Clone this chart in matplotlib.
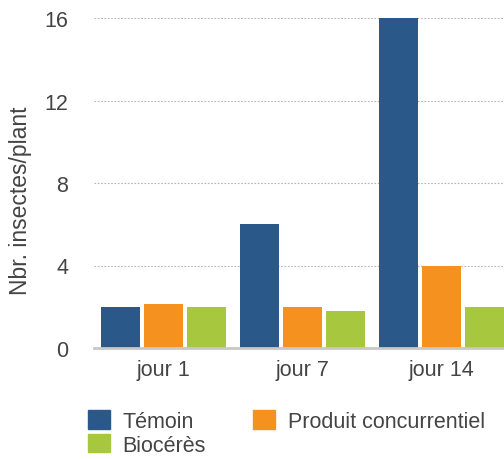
import matplotlib
matplotlib.use("Agg")
import matplotlib.pyplot as plt
import numpy as np
from matplotlib.patches import Patch

categories = ["jour 1", "jour 7", "jour 14"]
series_names = ["Témoin", "Produit concurrentiel", "Biocérès"]
temoin = [2.0, 6.0, 16.0]
produit = [2.15, 2.0, 4.0]
bioceres = [2.0, 1.8, 2.0]
colors = ["#2a5889", "#f5921f", "#a7c73e"]
yticks = [0, 4, 8, 12, 16]

plt.rcParams['font.family'] = ['Liberation Sans', 'DejaVu Sans']
fig = plt.figure(figsize=(5.04, 4.6), dpi=100)
ax = fig.add_axes([94/504, 1-349/460, 1-94/504, (349-19)/460])

x = np.arange(len(categories))
w = 0.28
step = 0.31
for i, (vals, c) in enumerate(zip([temoin, produit, bioceres], colors)):
    ax.bar(x + (i-1)*step, vals, width=w, color=c, zorder=3)

ax.set_xlim(-0.5, 2.45)
ax.set_ylim(0, 16)
ax.set_yticks(yticks)
ax.set_yticklabels([str(t) for t in yticks])
ax.set_xticks(x)
ax.set_xticklabels(categories)
for s in ax.spines.values():
    s.set_visible(False)
ax.tick_params(axis='both', length=0, labelsize=15.5, colors='#444444')
ax.tick_params(axis='y', pad=18.5)
ax.tick_params(axis='x', pad=8)
for t in yticks[1:]:
    ax.axhline(t, color='#b5b5b5', linestyle=(0, (1.5, 1.5)), linewidth=0.8, zorder=1)
ax.axhline(0, color='#c8c8c8', linewidth=2, zorder=4, clip_on=False)
ax.set_ylabel("Nbr. insectes/plant", fontsize=16.5, color='#444444')
ax.yaxis.set_label_coords((32-94)/410, (349-201)/330)

handles = [Patch(color=colors[0], label=series_names[0]),
           Patch(color=colors[2], label=series_names[2]),
           Patch(color=colors[1], label=series_names[1])]
fig.legend(handles=handles, loc='upper left', bbox_to_anchor=(88/504, 1-411/460),
           ncol=2, frameon=False, handlelength=1.0, handleheight=0.95,
           handletextpad=0.6, columnspacing=2.2, labelspacing=0.1, borderpad=0,
           borderaxespad=0, prop={'size': 15.5}, labelcolor='#444444')

fig.savefig("out.png", dpi=100)
